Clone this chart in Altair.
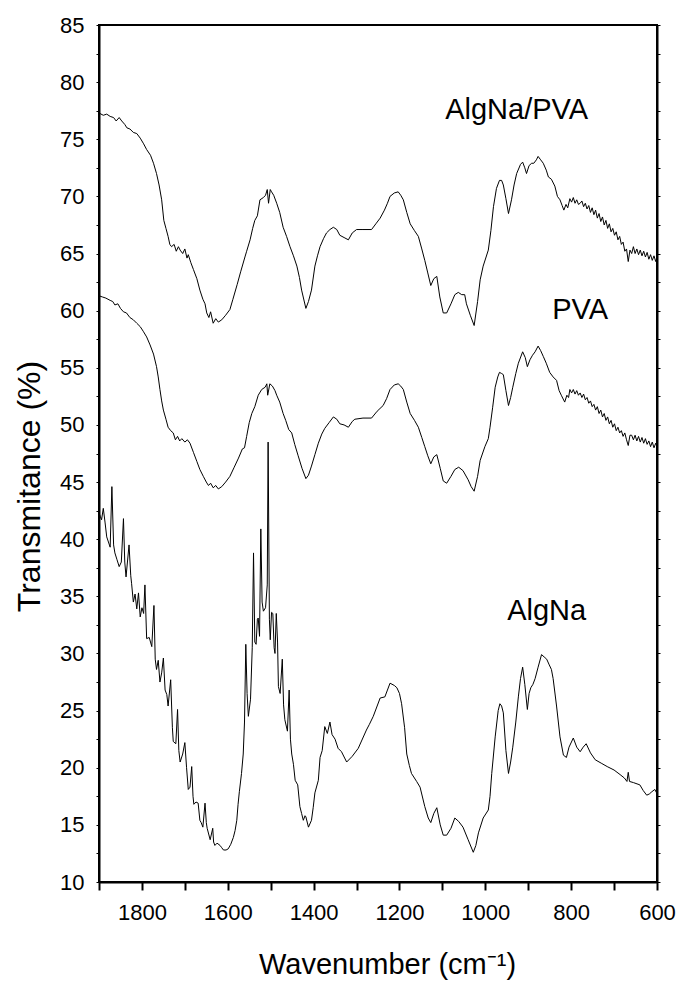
import altair as alt
import pandas as pd

# ---------------- data ----------------
blend_wn = [1900, 1890, 1882, 1874, 1866, 1860, 1853, 1847, 1840, 1835, 1828, 1820, 1812, 1804, 1796, 1789,
            1780, 1773, 1766, 1760, 1754, 1749, 1744, 1739, 1735, 1731, 1725, 1720, 1715, 1711, 1705, 1700,
            1695, 1692, 1686, 1680, 1672, 1665, 1658, 1653, 1649, 1644, 1640, 1634, 1628, 1622, 1614, 1605,
            1595, 1588, 1578, 1570, 1560, 1556, 1548, 1542, 1537, 1531, 1525, 1517, 1512, 1508, 1505, 1501,
            1498, 1493, 1486, 1479, 1471, 1463, 1455, 1447, 1439, 1433, 1428, 1418, 1412, 1405, 1397, 1391,
            1385, 1377, 1370, 1362, 1354, 1346, 1339, 1329, 1319, 1310, 1300, 1285, 1265, 1255, 1245, 1235,
            1228, 1222, 1212, 1203, 1197, 1191, 1183, 1175, 1165, 1156, 1148, 1141, 1134, 1127, 1120, 1113,
            1106, 1098, 1090, 1080, 1071, 1063, 1055, 1048, 1044, 1035, 1026, 1018, 1012, 1005, 993, 987,
            981, 974, 967, 962, 958, 952, 946, 939, 933, 927, 918, 913, 908, 904, 898, 892, 887, 881, 877,
            871, 865, 858, 853, 846, 838, 832, 826, 821, 817, 812, 808, 803, 799, 795, 791, 787, 783, 779,
            775, 771, 767, 763, 759, 755, 751, 747, 743, 739, 735, 731, 727, 723, 719, 715, 711, 707, 703,
            699, 695, 691, 687, 683, 679, 675, 671, 667, 663, 659, 655, 651, 647, 643, 639, 635, 631, 627,
            623, 619, 615, 611, 607, 603, 600]
blend_t = [77.3, 77.1, 77.2, 77.0, 76.9, 76.6, 76.9, 76.6, 76.3, 76.0, 75.9, 75.6, 75.5, 75.1, 74.6, 74.1,
           73.6, 72.9, 72.0, 71.0, 69.7, 67.9, 67.2, 66.5, 65.8, 65.6, 65.8, 65.2, 65.6, 65.3, 65.0, 65.4,
           64.6, 64.9, 64.2, 63.6, 62.8, 61.8, 61.0, 60.6, 59.8, 59.4, 59.9, 58.9, 59.3, 59.0, 59.2, 59.6,
           60.1, 61.0, 62.3, 63.4, 64.7, 65.2, 66.2, 67.2, 67.9, 68.3, 69.7, 69.9, 70.1, 70.6, 69.4, 70.6,
           70.4, 70.1, 69.4, 68.6, 67.3, 66.5, 65.6, 64.8, 63.9, 62.9, 61.8, 60.2, 60.8, 61.8, 63.9, 64.8,
           65.6, 66.3, 66.8, 67.1, 67.3, 67.1, 66.6, 66.4, 66.2, 66.8, 67.1, 67.1, 67.1, 67.6, 68.1, 68.8,
           69.4, 70.0, 70.3, 70.4, 70.1, 69.7, 68.6, 67.6, 67.0, 66.5, 65.4, 64.4, 63.3, 62.2, 62.8, 63.0,
           61.2, 59.8, 59.8, 60.6, 61.4, 61.6, 61.4, 61.4, 60.6, 59.6, 58.7, 60.8, 62.7, 63.9, 65.3, 67.0,
           69.1, 70.7, 71.4, 71.4, 71.0, 69.8, 68.5, 69.7, 71.0, 72.0, 72.8, 73.0, 72.5, 72.0, 72.7, 72.9,
           72.9, 73.2, 73.5, 73.2, 72.9, 72.3, 71.7, 71.5, 70.9, 70.0, 69.7, 69.2, 68.8, 69.3, 69.0, 69.8,
           69.5, 69.9, 69.4, 69.7, 69.3, 69.4, 69.6, 69.1, 69.4, 68.9, 69.2, 68.6, 69.0, 68.4, 68.8, 68.1,
           68.5, 67.8, 68.2, 67.5, 67.9, 67.2, 67.6, 66.9, 67.2, 66.6, 66.9, 66.2, 66.5, 65.8, 66.0, 65.2,
           65.4, 64.3, 65.3, 65.0, 65.6, 65.0, 65.4, 64.9, 65.3, 64.8, 65.2, 64.7, 65.1, 64.5, 64.9, 64.4,
           64.8, 64.3, 64.7]

pva_wn = [1900, 1892, 1884, 1874, 1868, 1863, 1856, 1850, 1843, 1836, 1828, 1820, 1812, 1804, 1797, 1789,
          1781, 1773, 1766, 1762, 1758, 1754, 1750, 1744, 1739, 1733, 1727, 1722, 1717, 1712, 1707, 1700,
          1694, 1688, 1680, 1672, 1665, 1657, 1650, 1645, 1640, 1634, 1628, 1622, 1614, 1605, 1595, 1585,
          1575, 1566, 1561, 1556, 1550, 1544, 1537, 1529, 1521, 1513, 1509, 1507, 1502, 1496, 1490, 1486,
          1479, 1471, 1465, 1458, 1451, 1444, 1436, 1427, 1418, 1412, 1405, 1397, 1389, 1381, 1374, 1364,
          1354, 1346, 1339, 1329, 1319, 1310, 1304, 1285, 1265, 1252, 1238, 1230, 1222, 1212, 1203, 1197,
          1191, 1183, 1175, 1165, 1156, 1148, 1141, 1134, 1127, 1120, 1113, 1105, 1098, 1090, 1080, 1071,
          1062, 1052, 1040, 1033, 1026, 1018, 1012, 1001, 993, 989, 983, 977, 971, 967, 962, 958, 952, 946,
          941, 936, 929, 923, 913, 907, 902, 896, 890, 884, 877, 871, 865, 858, 850, 842, 834, 828, 823,
          815, 810, 806, 803, 799, 795, 791, 787, 783, 779, 775, 771, 767, 763, 759, 755, 751, 747, 743,
          739, 735, 731, 727, 723, 719, 715, 711, 707, 703, 699, 695, 691, 687, 683, 679, 675, 671, 667,
          663, 659, 655, 651, 647, 643, 639, 635, 631, 627, 623, 619, 615, 611, 607, 603, 600]
pva_t = [61.3, 61.2, 61.1, 60.9, 60.8, 60.5, 60.6, 60.2, 59.9, 59.8, 59.4, 59.2, 58.9, 58.6, 58.2, 57.7,
         57.0, 56.2, 55.1, 54.2, 53.1, 52.1, 51.3, 50.5, 49.8, 49.5, 49.3, 48.7, 49.0, 48.6, 48.8, 48.5,
         48.7, 48.4, 47.6, 46.8, 46.1, 45.5, 45.0, 44.7, 44.9, 44.5, 44.7, 44.4, 44.6, 45.0, 45.5, 46.3,
         47.1, 47.9, 48.0, 49.0, 50.2, 51.0, 51.6, 52.6, 53.1, 53.3, 53.6, 52.6, 53.6, 53.4, 53.0, 52.6,
         52.0, 51.0, 50.4, 49.6, 49.3, 48.3, 47.3, 46.2, 45.3, 45.6, 46.4, 47.4, 48.4, 49.2, 49.7, 50.2,
         50.7, 50.5, 50.1, 50.0, 49.8, 50.3, 50.5, 50.6, 50.6, 51.2, 51.7, 52.3, 53.1, 53.5, 53.6, 53.4,
         53.1, 52.0, 51.0, 50.4, 49.8, 48.9, 48.1, 47.3, 46.6, 47.2, 47.4, 46.2, 45.1, 44.9, 45.5, 46.1,
         46.3, 46.0, 45.2, 44.6, 44.2, 45.5, 46.9, 48.1, 48.8, 49.8, 51.5, 53.3, 54.2, 54.6, 54.5, 54.4,
         53.0, 51.7, 52.4, 53.3, 54.5, 55.4, 56.4, 55.9, 55.1, 55.7, 56.1, 56.4, 56.9, 56.5, 56.0, 55.4,
         54.6, 54.2, 53.9, 53.0, 52.6, 52.0, 52.6, 52.4, 53.1, 52.8, 53.1, 52.7, 53.0, 52.6, 52.8, 52.4,
         52.7, 52.2, 52.4, 51.9, 52.1, 51.6, 51.8, 51.3, 51.6, 51.0, 51.3, 50.7, 51.0, 50.4, 50.7, 50.1,
         50.4, 49.8, 50.1, 49.5, 49.8, 49.3, 49.5, 49.0, 49.3, 48.7, 48.2, 49.1, 49.1, 48.7, 49.1, 48.6,
         49.0, 48.5, 48.9, 48.4, 48.8, 48.3, 48.6, 48.1, 48.5, 48.0, 48.4, 48.1]

alg_wn = [1900, 1897, 1894, 1890, 1886, 1882, 1874, 1870, 1866, 1863, 1858, 1853, 1848, 1843, 1840, 1837,
          1830, 1826, 1824, 1820, 1816, 1812, 1808, 1804, 1800, 1796, 1793, 1789, 1783, 1777, 1772, 1769,
          1766, 1762, 1758, 1754, 1750, 1746, 1742, 1739, 1733, 1729, 1727, 1721, 1717, 1714, 1711, 1705,
          1700, 1696, 1692, 1688, 1684, 1681, 1679, 1674, 1669, 1665, 1662, 1658, 1653, 1650, 1648, 1641,
          1635, 1633, 1630, 1625, 1618, 1614, 1610, 1604, 1599, 1593, 1587, 1583, 1579, 1576, 1573, 1568,
          1564, 1561, 1558, 1555, 1552, 1547, 1543, 1540, 1537, 1534, 1531, 1529, 1526, 1523, 1520, 1517,
          1512, 1508, 1506, 1503, 1501, 1498, 1495, 1492, 1490, 1487, 1484, 1482, 1478, 1473, 1470, 1467,
          1461, 1457, 1454, 1451, 1447, 1443, 1437, 1432, 1428, 1424, 1420, 1418, 1412, 1405, 1401, 1397,
          1389, 1385, 1380, 1374, 1368, 1362, 1357, 1350, 1343, 1335, 1323, 1310, 1296, 1277, 1270, 1261,
          1245, 1234, 1228, 1222, 1212, 1206, 1200, 1195, 1188, 1183, 1177, 1172, 1160, 1152, 1141, 1133,
          1127, 1120, 1113, 1105, 1098, 1090, 1080, 1071, 1062, 1052, 1040, 1028, 1022, 1016, 1005, 993,
          989, 985, 977, 970, 966, 962, 958, 952, 946, 941, 936, 929, 923, 918, 913, 908, 902, 898, 894,
          889, 884, 877, 869, 863, 857, 851, 846, 842, 834, 826, 818, 811, 805, 795, 787, 779, 772, 765,
          755, 744, 730, 716, 700, 686, 676, 670, 667, 664, 655, 640, 632, 624, 618, 612, 605, 601, 600]
alg_t = [42.3, 42.0, 41.7, 42.7, 41.5, 40.2, 39.3, 44.6, 39.5, 38.8, 38.2, 37.6, 38.0, 41.8, 38.0, 36.7,
         39.5, 36.8, 36.1, 34.5, 35.2, 33.9, 35.3, 33.2, 34.0, 33.5, 36.0, 31.3, 31.4, 30.6, 34.2, 29.5,
         28.6, 29.4, 27.5, 28.3, 29.6, 26.8, 26.4, 25.4, 27.7, 23.5, 22.3, 22.1, 25.1, 21.5, 20.5, 21.2,
         22.2, 20.0, 18.1, 18.3, 20.1, 17.5, 16.8, 17.0, 16.9, 15.4, 15.2, 14.8, 16.9, 15.2, 14.7, 13.7,
         14.7, 13.5, 13.2, 13.4, 13.2, 13.0, 12.8, 12.8, 12.9, 13.3, 13.9, 14.5, 15.4, 16.8, 17.9, 19.5,
         21.2, 24.0, 30.8, 26.5, 24.5, 26.0, 30.5, 38.8, 31.0, 30.8, 33.0, 33.1, 31.5, 40.9, 34.5, 33.7,
         34.0, 36.0, 48.5, 33.0, 31.2, 33.6, 33.5, 30.5, 30.0, 33.5, 31.0, 27.1, 26.5, 29.5, 25.5, 24.2,
         23.2, 26.8, 22.5, 21.2, 20.3, 18.9, 18.5, 16.6, 16.0, 15.4, 15.8, 15.7, 14.8, 15.4, 16.5, 17.8,
         18.9, 20.9, 21.5, 23.6, 23.0, 24.0, 22.9, 22.5, 21.7, 21.4, 20.5, 21.0, 21.7, 23.3, 23.8, 24.5,
         26.1, 26.2, 26.8, 27.4, 27.2, 27.0, 26.5, 25.6, 23.5, 21.2, 20.2, 19.5, 18.8, 18.3, 16.6, 15.6,
         15.2, 16.0, 16.5, 15.0, 14.1, 14.1, 14.7, 15.6, 15.3, 14.8, 13.7, 12.6, 13.2, 14.3, 15.6, 16.3,
         17.5, 19.5, 22.7, 25.0, 25.6, 25.4, 24.8, 21.5, 19.5, 20.5, 21.8, 24.0, 26.2, 27.8, 28.8, 27.3,
         25.1, 26.5, 27.0, 27.3, 27.8, 28.8, 29.9, 29.7, 29.5, 29.0, 28.6, 27.8, 25.4, 22.7, 21.1, 20.9,
         21.8, 22.6, 21.8, 21.4, 21.8, 22.1, 21.3, 20.7, 20.4, 20.1, 19.8, 19.4, 19.1, 18.8, 19.6, 18.8,
         18.7, 18.5, 18.0, 17.6, 17.7, 17.9, 18.1, 17.8, 17.9]

series_names = ["AlgNa/PVA", "PVA", "AlgNa"]
label_wn = [927, 779, 857]
label_t = [76.8, 59.3, 32.9]

x_ticks = [1900, 1800, 1700, 1600, 1500, 1400, 1300, 1200, 1100, 1000, 900, 800, 700, 600]
y_ticks = [10, 12.5, 15, 17.5, 20, 22.5, 25, 27.5, 30, 32.5, 35, 37.5, 40, 42.5, 45, 47.5,
           50, 52.5, 55, 57.5, 60, 62.5, 65, 67.5, 70, 72.5, 75, 77.5, 80, 82.5, 85]

# ---------------- tables ----------------
frames = []
for name, wn, t in [("AlgNa/PVA", blend_wn, blend_t), ("PVA", pva_wn, pva_t), ("AlgNa", alg_wn, alg_t)]:
    frames.append(pd.DataFrame({"wn": wn, "t": t, "series": name}))
df = pd.concat(frames, ignore_index=True)
labels = pd.DataFrame({"wn": label_wn, "t": label_t, "text": series_names})

FONT = "Liberation Sans"
xscale = alt.Scale(domain=[1900, 600], nice=False, zero=False)
yscale = alt.Scale(domain=[10, 85], nice=False, zero=False)

x_axis = alt.Axis(
    values=x_ticks, format="d", labelExpr="datum.value % 200 == 0 ? datum.label : ''",
    title="Wavenumber (cm\u207b\u00b9)", titleFontSize=29, titleFont=FONT, titleFontWeight="normal",
    titleColor="black", titleX=288, titleY=91, titleBaseline="alphabetic",
    labelFont=FONT, labelFontSize=22, labelColor="black", labelPadding=12, labelFlush=False,
    labelOverlap=False, tickSize=8, tickWidth=2, tickColor="black",
    domainColor="black", domainWidth=2, grid=False)

y_axis = alt.Axis(
    values=y_ticks, labelExpr="datum.value % 5 == 0 ? datum.label : ''",
    title="Transmitance (%)", titleFontSize=32, titleFont=FONT, titleFontWeight="normal",
    titleColor="black", titleX=-70, titleY=461, titleBaseline="middle", titleAngle=-90,
    labelFont=FONT, labelFontSize=22, labelColor="black", labelPadding=12,
    labelOverlap=False, tickSize=3, tickWidth=1, tickColor="black",
    domainColor="black", domainWidth=2, grid=False)

lines = alt.Chart(df).mark_line(color="black", strokeWidth=1).encode(
    x=alt.X("wn:Q", scale=xscale, axis=x_axis),
    y=alt.Y("t:Q", scale=yscale, axis=y_axis),
    detail="series:N", order="wn:Q")

texts = alt.Chart(labels).mark_text(font=FONT, fontSize=29, color="black",
                                    align="center", baseline="alphabetic").encode(
    x=alt.X("wn:Q", scale=xscale, axis=x_axis),
    y=alt.Y("t:Q", scale=yscale, axis=None),
    text="text:N")

right = alt.Chart(labels).mark_point(opacity=0).encode(
    x=alt.X("wn:Q", scale=xscale, axis=x_axis),
    y=alt.Y("t:Q", scale=yscale, axis=alt.Axis(
        orient="right", values=y_ticks, labels=False,
        title=None, tickSize=3, tickWidth=1,
        tickColor="black", domainColor="black", domainWidth=2, grid=False)))

chart = alt.layer(lines, texts, right).resolve_scale(y="independent").properties(
    width=558, height=857,
    background="white",
    autosize=alt.AutoSizeParams(type="none"),
    padding={"left": 99, "top": 25, "right": 24, "bottom": 103},
).configure_view(stroke="black", strokeWidth=2)

chart.save("out.html", embed_options={"renderer": "svg", "actions": False})
